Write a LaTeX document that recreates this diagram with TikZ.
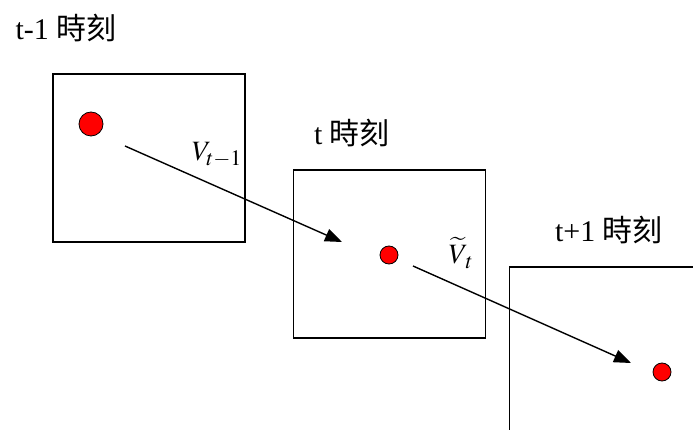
\documentclass[tikz,border=0pt]{standalone}
\usepackage{mathptmx}
\usepackage{fontspec}
\setmainfont{Liberation Serif}
\newfontfamily\cjk{Noto Sans CJK TC}
\usetikzlibrary{arrows.meta}
\DeclareMathSizes{28}{28}{22}{16}

\begin{document}
\begin{tikzpicture}[x=1pt,y=-1pt,
  box/.style={draw,line width=1.4pt,minimum width=192pt,minimum height=168pt,inner sep=0pt},
  dot/.style={circle,draw,line width=0.8pt,fill=red,inner sep=0pt},
  lbl/.style={font=\fontsize{30}{34}\selectfont,inner sep=0pt},
  mlbl/.style={font=\fontsize{28}{32}\selectfont,inner sep=0pt},
  a/.style={-{Triangle[length=17pt,width=13pt]},line width=1.4pt}]
\clip (0,0) rectangle (693,430);
% frames
\node[box](prev) at (149,158) {};
\node[box](cur) at (389.5,254) {};
\node[box](next) at (605.5,351) {};
\node[lbl](prevtxt) at (66,28) {t-1 {\cjk 時刻}};
\node[lbl](curtxt) at (352,133) {t {\cjk 時刻}};
\node[lbl](nexttxt) at (609,230) {t+1 {\cjk 時刻}};
% points
\node[dot,minimum size=24pt](p1) at (91,124) {};
\node[dot,minimum size=18pt](p2) at (389,255) {};
\node[dot,minimum size=18pt](p3) at (662,372) {};
% motion vectors
\coordinate (s1) at (125,146);
\coordinate (e1) at (342,242);
\coordinate (s2) at (413,266);
\coordinate (e2) at (631,363);
\draw[a](s1)--(e1);
\draw[a](s2)--(e2);
\node[mlbl](v1) at (217,155) {$V_{t-1}$};
\node[mlbl](v2) at (461,253) {$\widetilde{V}_{\,t}$};
\end{tikzpicture}
\end{document}
